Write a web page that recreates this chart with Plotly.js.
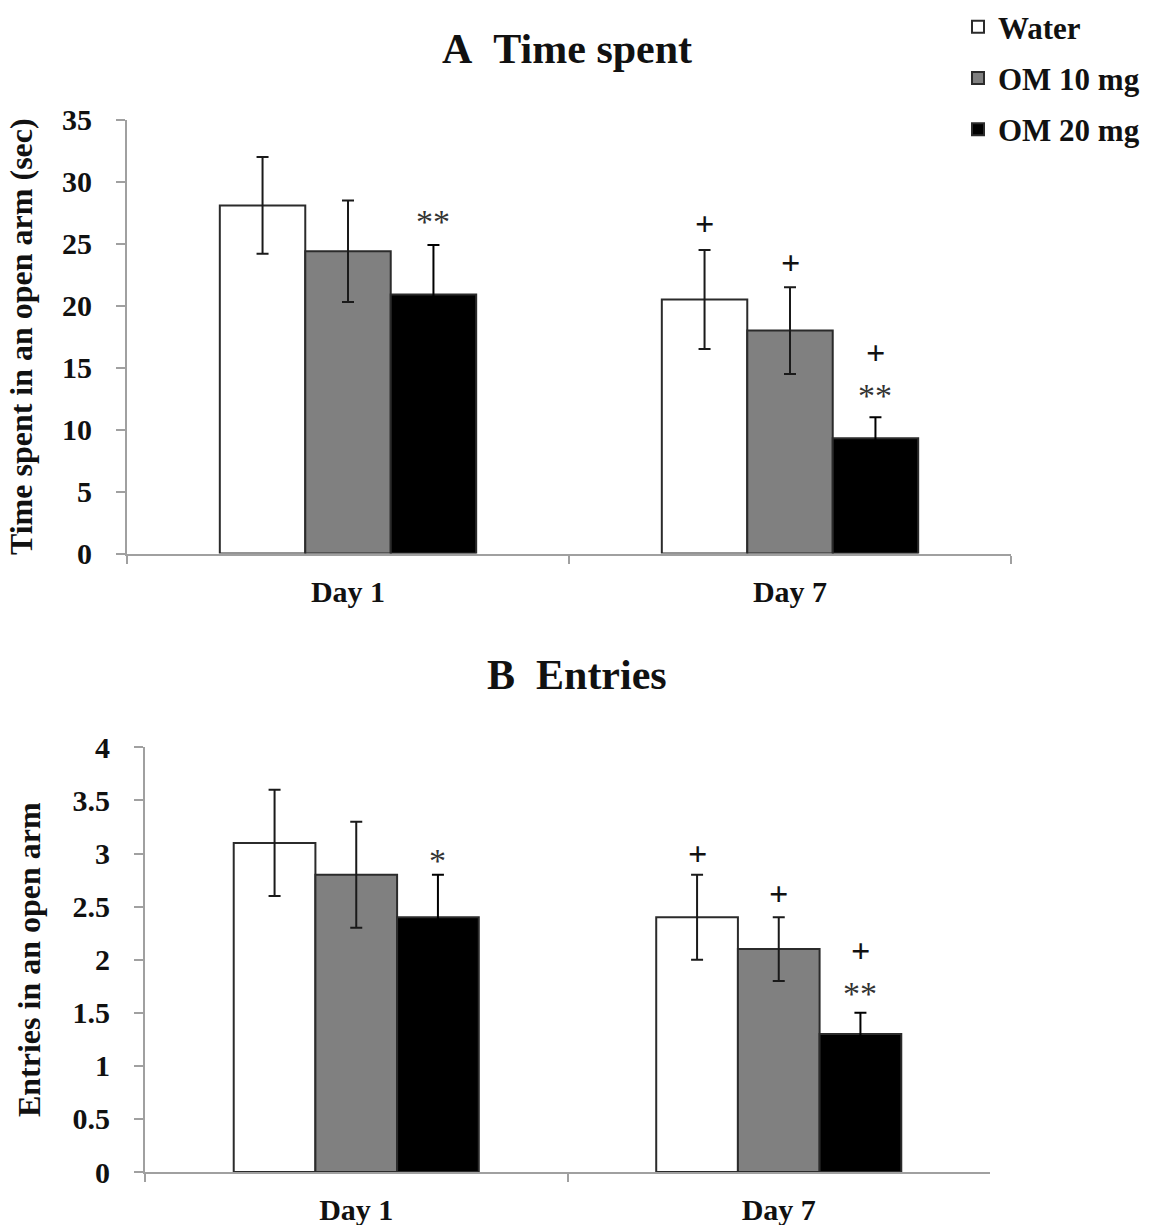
<!DOCTYPE html>
<html>
<head>
<meta charset="utf-8">
<script src="https://cdn.plot.ly/plotly-3.0.1.min.js"></script>
<style>html,body{margin:0;padding:0;background:#fff;}#chart{width:1149px;height:1225px;}</style>
</head>
<body>
<div id="chart"></div>
<script>
// ---- Data ----
const categories = ['Day 1', 'Day 7'];
const seriesNames = ['Water', 'OM 10 mg', 'OM 20 mg'];

// Panel A: time spent in an open arm (sec)
const timeWater = [28.1, 20.5];
const timeWaterErr = [3.9, 4.0];
const timeOM10 = [24.4, 18.0];
const timeOM10Err = [4.1, 3.5];
const timeOM20 = [20.9, 9.3];
const timeOM20Err = [4.0, 1.7];

// Panel B: entries in an open arm
const entWater = [3.1, 2.4];
const entWaterErr = [0.5, 0.4];
const entOM10 = [2.8, 2.1];
const entOM10Err = [0.5, 0.3];
const entOM20 = [2.4, 1.3];
const entOM20Err = [0.4, 0.2];

// Significance marks: text, category index, series index, y (data units)
const topSigText = ['**', '+', '+', '+', '**'];
const topSigCat = [0, 1, 1, 1, 1];
const topSigSeries = [2, 0, 1, 2, 2];
const topSigY = [27.1, 26.6, 23.5, 16.2, 13.1];

const botSigText = ['*', '+', '+', '+', '**'];
const botSigCat = [0, 1, 1, 1, 1];
const botSigSeries = [2, 0, 1, 2, 2];
const botSigY = [2.97, 3.0, 2.62, 2.09, 1.72];

// ---- Styling ----
const FONT = 'Liberation Serif, Times New Roman, serif';
const fills = ['#ffffff', '#808080', '#000000'];
const errColors = ['#1a1a1a', '#1a1a1a', '#000000'];
const BARGAP = 0.42;
const AXIS_COLOR = '#a0a0a0';

const timeVals = [timeWater, timeOM10, timeOM20];
const timeErrs = [timeWaterErr, timeOM10Err, timeOM20Err];
const entVals = [entWater, entOM10, entOM20];
const entErrs = [entWaterErr, entOM10Err, entOM20Err];

const traces = [];
function addBars(vals, errs, xa, ya, showLegend) {
  for (let i = 0; i < 3; i++) {
    traces.push({
      type: 'bar',
      name: seriesNames[i],
      legendgroup: 'g' + i,
      showlegend: showLegend,
      x: categories,
      y: vals[i],
      xaxis: xa,
      yaxis: ya,
      marker: { color: fills[i], line: { color: '#2b2b2b', width: 2 } },
      error_y: { type: 'data', array: errs[i], visible: true, color: errColors[i], thickness: 2, width: 6 },
      hoverinfo: 'skip'
    });
  }
}
addBars(timeVals, timeErrs, 'x', 'y', true);
addBars(entVals, entErrs, 'x2', 'y2', false);

const annotations = [];
const groupW = 1 - BARGAP;
function addSig(texts, cats, series, ys, xref, yref) {
  for (let k = 0; k < texts.length; k++) {
    const isPlus = texts[k] === '+';
    annotations.push({
      xref: xref, yref: yref,
      x: cats[k] + (series[k] - 1) * groupW / 3,
      y: ys[k],
      text: texts[k],
      showarrow: false,
      xanchor: 'center', yanchor: 'middle',
      yshift: isPlus ? 0 : -4,
      font: { family: FONT, size: 34, color: isPlus ? '#111' : '#333', weight: isPlus ? 'bold' : 'normal' }
    });
  }
}
addSig(topSigText, topSigCat, topSigSeries, topSigY, 'x', 'y');
addSig(botSigText, botSigCat, botSigSeries, botSigY, 'x2', 'y2');

annotations.push({
  xref: 'paper', yref: 'paper', x: 567 / 1149, y: 1 - 48 / 1225,
  text: 'A\u00a0\u00a0Time spent', showarrow: false, xanchor: 'center', yanchor: 'middle',
  font: { family: FONT, size: 42, color: '#111', weight: 'bold' }
});
annotations.push({
  xref: 'paper', yref: 'paper', x: 577 / 1149, y: 1 - 675 / 1225,
  text: 'B\u00a0\u00a0Entries', showarrow: false, xanchor: 'center', yanchor: 'middle',
  font: { family: FONT, size: 42, color: '#111', weight: 'bold' }
});

const tickFont = { family: FONT, size: 30, color: '#111', weight: 'bold' };
const titleFont = { family: FONT, size: 32, color: '#111', weight: 'bold' };

function xAxis(domain, anchor) {
  return {
    domain: domain, anchor: anchor, type: 'category',
    showline: true, linecolor: AXIS_COLOR, linewidth: 2,
    ticks: 'outside', tickson: 'boundaries', ticklen: 8, tickwidth: 2, tickcolor: AXIS_COLOR,
    showgrid: false, zeroline: false, tickfont: tickFont, ticklabelstandoff: 10,
    fixedrange: true
  };
}
function yAxis(domain, anchor, range, dtick, title, standoff) {
  return {
    domain: domain, anchor: anchor, range: range, dtick: dtick, tick0: 0,
    showline: true, linecolor: AXIS_COLOR, linewidth: 2,
    ticks: 'outside', ticklen: 9, tickwidth: 2, tickcolor: AXIS_COLOR,
    showgrid: false, zeroline: false, tickfont: tickFont, ticklabelstandoff: 18,
    title: { text: title, font: titleFont, standoff: standoff },
    fixedrange: true
  };
}

const layout = {
  width: 1149, height: 1225,
  margin: { l: 0, r: 0, t: 0, b: 0 },
  paper_bgcolor: '#ffffff', plot_bgcolor: '#ffffff',
  barmode: 'group', bargap: BARGAP, bargroupgap: 0,
  showlegend: true,
  legend: {
    x: 958 / 1149, y: 1 + 1 / 1225, xanchor: 'left', yanchor: 'top',
    font: { family: FONT, size: 31, color: '#111', weight: 'bold' },
    tracegroupgap: 8, bgcolor: 'rgba(0,0,0,0)', itemclick: false, itemdoubleclick: false
  },
  xaxis: xAxis([127 / 1149, 1011 / 1149], 'y'),
  yaxis: yAxis([1 - 553 / 1225, 1 - 119 / 1225], 'x', [0, 35], 5, 'Time spent in an open arm (sec)', 20),
  xaxis2: xAxis([145 / 1149, 990 / 1149], 'y2'),
  yaxis2: yAxis([1 - 1172 / 1225, 1 - 747 / 1225], 'x2', [0, 4], 0.5, 'Entries in an open arm', 22),
  annotations: annotations
};

Plotly.newPlot('chart', traces, layout, { displayModeBar: false, staticPlot: true });
</script>
</body>
</html>
